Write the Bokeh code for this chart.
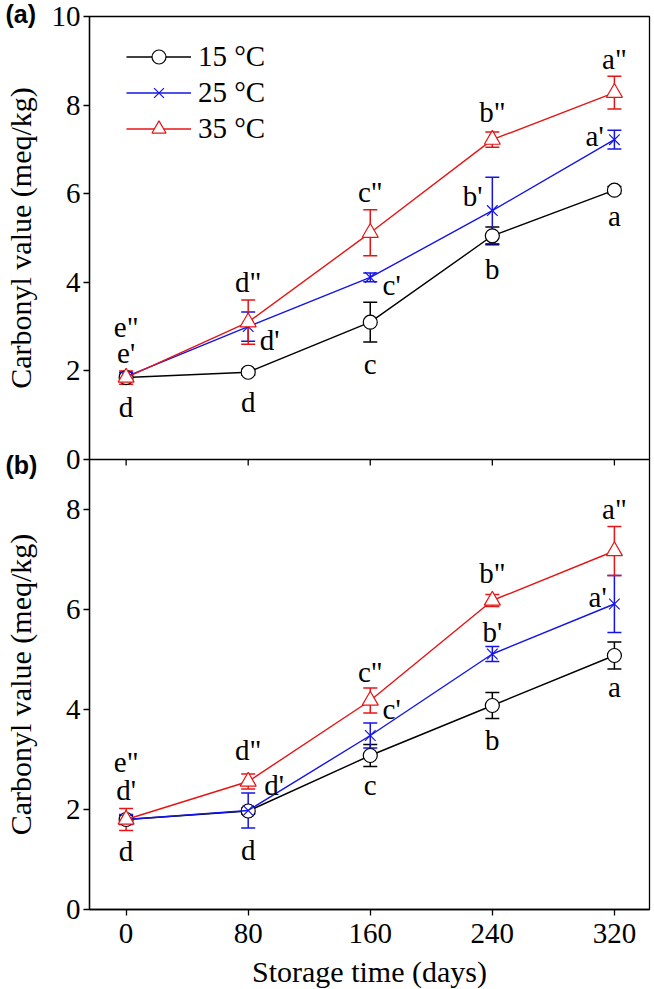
from bokeh.plotting import figure
from bokeh.layouts import column
from bokeh.models import (ColumnDataSource, Whisker, TeeHead, Legend, LegendItem,
                          Label, FixedTicker, Range1d)
from bokeh.core.properties import value
from bokeh.embed import file_html
from bokeh.resources import INLINE

FONT = "Liberation Serif"

# ---------------- data ----------------
days = [0, 80, 160, 240, 320]
x_ticks = [0, 80, 160, 240, 320]
legend_labels = ["15 \u00b0C", "25 \u00b0C", "35 \u00b0C"]
panel_tags = ["(a)", "(b)"]

# panel (a)
a_15 = [1.85, 1.97, 3.10, 5.05, 6.08]
a_15_err = [0.08, 0.07, 0.45, 0.20, 0.08]
a_25 = [1.87, 3.00, 4.11, 5.62, 7.22]
a_25_err = [0.10, 0.33, 0.10, 0.75, 0.21]
a_35 = [1.85, 3.10, 5.12, 7.22, 8.28]
a_35_err = [0.15, 0.50, 0.52, 0.17, 0.37]
a_yticks = [0, 2, 4, 6, 8, 10]

a_lbl_text = ['e"', "e'", "d", 'd"', "d'", "d", 'c"', "c'", "c", 'b"', "b'", "b", 'a"', "a'", "a"]
a_lbl_x = [0, 0, 0, 80, 94, 80, 160, 174, 160, 240, 227, 240, 320, 307, 320]
a_lbl_y = [2.98, 2.40, 1.18, 4.00, 2.69, 1.29, 6.04, 3.93, 2.15, 7.84, 5.94, 4.29, 9.04, 7.30, 5.50]

# panel (b)
b_15 = [1.80, 1.97, 3.08, 4.08, 5.08]
b_15_err = [0.08, 0.06, 0.22, 0.26, 0.27]
b_25 = [1.80, 1.98, 3.48, 5.11, 6.11]
b_25_err = [0.10, 0.35, 0.25, 0.15, 0.57]
b_35 = [1.80, 2.56, 4.18, 6.18, 7.17]
b_35_err = [0.22, 0.15, 0.25, 0.12, 0.49]
b_yticks = [0, 2, 4, 6, 8]

b_lbl_text = ['e"', "d'", "d", 'd"', "d'", "d", 'c"', "c'", "c", 'b"', "b'", "b", 'a"', "a'", "a"]
b_lbl_x = [0, 0, 0, 80, 97, 80, 160, 174, 160, 240, 240, 240, 320, 309, 320]
b_lbl_y = [2.95, 2.39, 1.17, 3.20, 2.50, 1.19, 4.76, 4.02, 2.49, 6.74, 5.55, 3.40, 8.02, 6.25, 4.46]

# ---------------- styling ----------------
colors = ["black", "#1414e6", "#e61414"]
markers = ["circle", "x", "triangle"]
msizes = [14, 15, 16]

FRAME_W = 560
LEFT = 84
OVERLAP = 64
TAG_H = 27          # measured height of a tag label slot
TOP_H = 443
BOT_H = 450
TXT = "29px"


def tag_label(text, x, y):
    return Label(x=x, y=y, x_units="screen", y_units="screen", text=text,
                 text_font="Liberation Sans", text_font_style="bold",
                 text_font_size="25px", text_baseline="middle", text_align="left",
                 text_color="black")


def make_panel(ymax, yticks, series, errors, lbl_text, lbl_x, lbl_y, frame_h,
               ylabel_standoff, with_legend, bottom):
    kw = {}
    if not bottom:
        kw["x_axis_location"] = None
    p = figure(frame_width=FRAME_W, frame_height=frame_h,
               x_range=Range1d(-24, 343), y_range=Range1d(0, ymax),
               output_backend="svg", toolbar_location=None,
               min_border_left=LEFT, min_border_right=2,
               min_border_top=0 if bottom else 16,
               min_border_bottom=0 if bottom else OVERLAP, **kw)
    p.grid.visible = False
    p.outline_line_color = "black"
    p.outline_line_width = 1.3
    p.background_fill_color = "white"
    if bottom:
        p.border_fill_alpha = 0
        p.margin = (-OVERLAP, 0, 0, 0)
    else:
        p.border_fill_color = "white"

    ya = p.yaxis[0]
    ya.ticker = FixedTicker(ticks=yticks)
    ya.major_tick_out = 6
    ya.major_tick_in = 0
    ya.minor_tick_line_color = None
    ya.axis_line_width = 1.3
    ya.major_tick_line_width = 1.3
    ya.major_label_text_font = FONT
    ya.major_label_text_font_size = TXT
    ya.major_label_text_color = "black"
    ya.major_label_standoff = 3
    ya.axis_label = "Carbonyl value (meq/kg)"
    ya.axis_label_text_font = FONT
    ya.axis_label_text_font_size = "30px"
    ya.axis_label_text_font_style = "normal"
    ya.axis_label_text_color = "black"
    ya.axis_label_standoff = ylabel_standoff

    if bottom:
        xa = p.xaxis[0]
        xa.ticker = FixedTicker(ticks=x_ticks)
        xa.major_tick_out = 6
        xa.major_tick_in = 0
        xa.minor_tick_line_color = None
        xa.axis_line_width = 1.3
        xa.major_tick_line_width = 1.3
        xa.major_label_text_font = FONT
        xa.major_label_text_font_size = TXT
        xa.major_label_text_color = "black"
        xa.major_label_standoff = 8
        xa.axis_label = "Storage time (days)"
        xa.axis_label_text_font = FONT
        xa.axis_label_text_font_size = "30px"
        xa.axis_label_text_font_style = "normal"
        xa.axis_label_text_color = "black"
        xa.axis_label_standoff = 9
        # tick marks hanging from the shared boundary with panel (a)
        p.ray(x=x_ticks, y=[ymax] * len(x_ticks), length=6, length_units="screen",
              angle=-90, angle_units="deg", line_color="black", line_width=1.3)

    items = []
    for ys, es, c, m, ms, lab in zip(series, errors, colors, markers, msizes, legend_labels):
        src = ColumnDataSource(dict(x=days, y=ys,
                                    lo=[y - e for y, e in zip(ys, es)],
                                    hi=[y + e for y, e in zip(ys, es)]))
        w = Whisker(source=src, base="x", upper="hi", lower="lo", dimension="height",
                    line_color=c, line_width=1.5, level="underlay",
                    upper_head=TeeHead(size=14, line_color=c, line_width=1.5),
                    lower_head=TeeHead(size=14, line_color=c, line_width=1.5))
        p.add_layout(w)
        ln = p.line("x", "y", source=src, line_color=c, line_width=1.4)
        sc = p.scatter("x", "y", source=src, marker=m, size=ms, line_color=c,
                       fill_color="white", line_width=1.2)
        items.append(LegendItem(label=lab, renderers=[ln, sc]))

    p.text(x=lbl_x, y=lbl_y, text=lbl_text, text_font=value(FONT),
           text_font_size=TXT, text_align="center", text_baseline="middle",
           text_color="black")

    if with_legend:
        leg = Legend(items=items, location=(37, frame_h - 23 - 107),
                     border_line_color=None,
                     background_fill_alpha=0, label_text_font=FONT,
                     label_text_font_size=TXT, label_text_color="black",
                     glyph_width=65, glyph_height=35, label_standoff=7,
                     spacing=1, margin=0, padding=0)
        p.add_layout(leg)

    if not bottom:
        # both tags live in the bottom border strip (which panel (b) overlaps)
        p.add_layout(tag_label(panel_tags[1], -LEFT, TAG_H - 4), "below")
        p.add_layout(tag_label(panel_tags[0], -LEFT, 2 * TAG_H + frame_h + 5), "below")
    return p


p1 = make_panel(10, a_yticks, [a_15, a_25, a_35], [a_15_err, a_25_err, a_35_err],
                a_lbl_text, a_lbl_x, a_lbl_y, TOP_H, 12, True, False)
p2 = make_panel(9, b_yticks, [b_15, b_25, b_35], [b_15_err, b_25_err, b_35_err],
                b_lbl_text, b_lbl_x, b_lbl_y, BOT_H, 26, False, True)

layout = column(p1, p2, spacing=0)
open("out.html", "w").write(file_html(layout, INLINE))
